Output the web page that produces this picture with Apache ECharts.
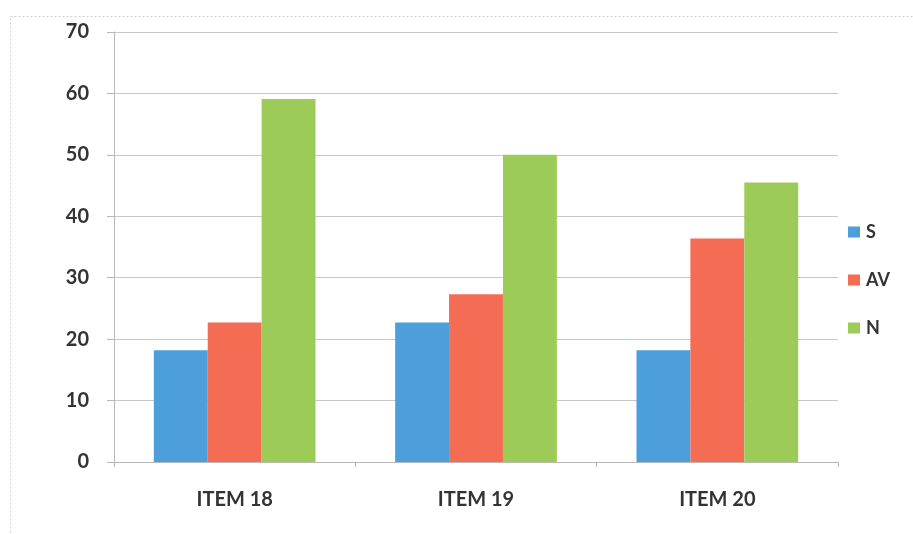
<!DOCTYPE html>
<html>
<head>
<meta charset="utf-8">
<script src="https://cdn.jsdelivr.net/npm/echarts@6/dist/echarts.min.js"></script>
<style>
  html, body { margin: 0; padding: 0; background: #fff; }
  #chart { width: 913px; height: 534px; }
</style>
</head>
<body>
<div id="chart"></div>
<script>
// Response shares (%) per item
const categories = ['ITEM 18', 'ITEM 19', 'ITEM 20'];
const seriesS = [18.2, 22.7, 18.2];
const seriesAV = [22.7, 27.3, 36.4];
const seriesN = [59.1, 50.0, 45.5];
const yTicks = { min: 0, max: 70, interval: 10 };

const FONT = 'Lato, "Open Sans", sans-serif';
const TEXT = '#333333';
const AXIS = '#b8b8b8';

const chart = echarts.init(document.getElementById('chart'), null, { renderer: 'canvas' });

function barSeries(name, data, color) {
  return {
    name: name,
    type: 'bar',
    data: data,
    barGap: '0%',
    barCategoryGap: '33%',
    itemStyle: { color: color }
  };
}

chart.setOption({
  animation: false,
  backgroundColor: '#fff',
  graphic: [{
    type: 'rect',
    left: 8, top: 14,
    shape: { width: 920, height: 540 },
    style: { fill: 'none', stroke: '#d0d0d0', lineWidth: 1, lineDash: [2, 2] },
    silent: true
  }],
  grid: { left: 114, right: 75, top: 32, bottom: 72 },
  legend: {
    orient: 'vertical',
    left: 848,
    top: 223,
    padding: 0,
    itemGap: 30,
    itemWidth: 12,
    itemHeight: 11,
    icon: 'rect',
    textStyle: { fontFamily: FONT, fontWeight: 'bold', fontSize: 18, color: TEXT, padding: [0, 0, 0, 1] },
    data: ['S', 'AV', 'N']
  },
  xAxis: {
    type: 'category',
    data: categories,
    axisLine: { lineStyle: { color: AXIS } },
    axisTick: { show: true, length: 5, lineStyle: { color: AXIS } },
    axisLabel: { fontFamily: FONT, fontWeight: 'bold', fontSize: 20, color: TEXT, margin: 28 }
  },
  yAxis: {
    type: 'value',
    min: yTicks.min,
    max: yTicks.max,
    interval: yTicks.interval,
    axisLine: { show: true, lineStyle: { color: AXIS } },
    axisTick: { show: true, length: 7, lineStyle: { color: AXIS } },
    splitLine: { lineStyle: { color: '#c8c8c8' } },
    axisLabel: { fontFamily: FONT, fontWeight: 'bold', fontSize: 20, color: TEXT, margin: 25 }
  },
  series: [
    barSeries('S', seriesS, '#4d9fdc'),
    barSeries('AV', seriesAV, '#f46c53'),
    barSeries('N', seriesN, '#9dcb58')
  ]
});
</script>
</body>
</html>
